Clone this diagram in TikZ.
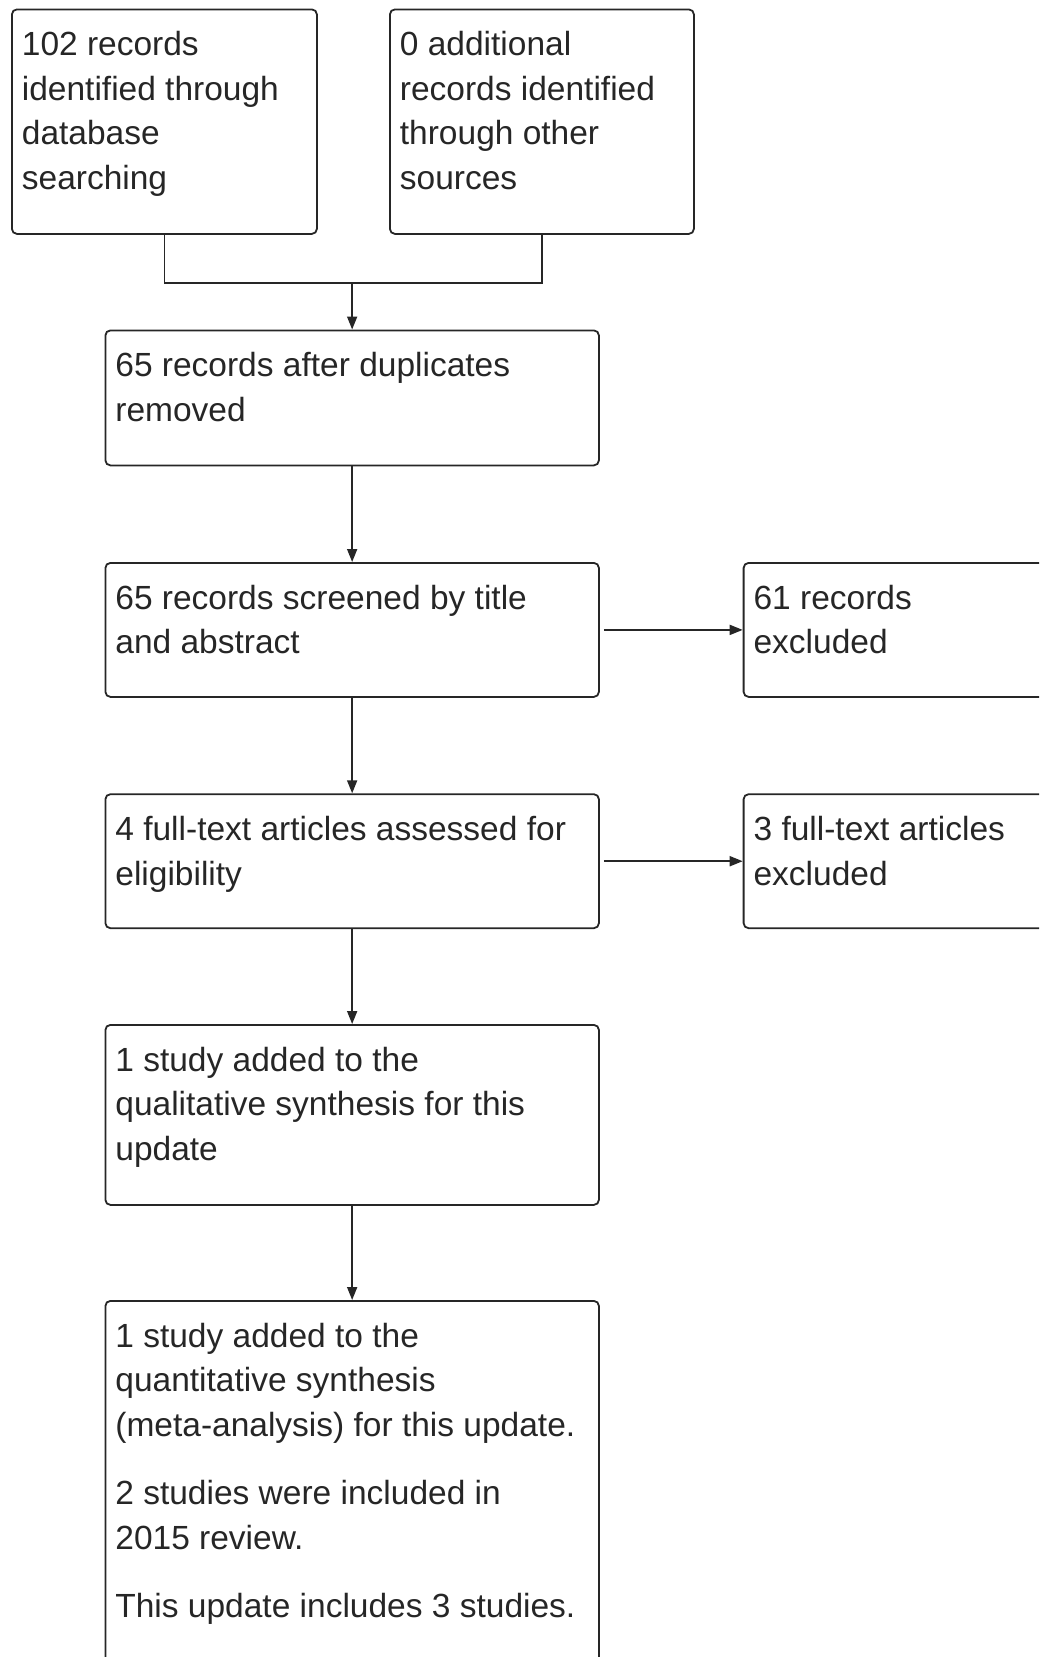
\documentclass[tikz,border=0pt]{standalone}
\usepackage{fontspec}
\setmainfont{Liberation Sans}
\usepackage{tikz}
\usetikzlibrary{arrows.meta}
\newcommand{\boxfont}{\fontsize{33.5pt}{44.4pt}\selectfont}
% text set at the top of a box of fixed height
\newcommand{\boxtext}[3]{\begin{minipage}[t][#2][t]{#1}\raggedright\rule{0pt}{46.5pt}#3\end{minipage}}

\begin{document}
\begin{tikzpicture}[x=1pt, y=1pt,
  box/.style={draw=black!85, line width=1.8pt, rounded corners=5pt, anchor=north west,
    inner xsep=10pt, inner ysep=0pt, font=\boxfont, text=black!85},
  link/.style={draw=black!85, line width=1.8pt},
  arrow/.style={link, -{Triangle[length=13pt,width=10pt]}},
]
\useasboundingbox (0,0) rectangle (1039,-1657);
\clip (0,0) rectangle (1039,-1657);
% ---------- Identification ----------
\node[box] (db) at (11,-8.5) {\boxtext{285pt}{224.5pt}{102 records\\identified through\\database\\searching}};
\node[box] (other) at (389,-8.5) {\boxtext{284pt}{224.5pt}{0 additional\\records identified\\through other\\sources}};
% ---------- Screening ----------
\node[box] (dedup) at (104.5,-329.5) {\boxtext{473.5pt}{135pt}{65 records after duplicates\\removed}};
\node[box] (screen) at (104.5,-562) {\boxtext{473.5pt}{134pt}{65 records screened by title\\and abstract}};
\node[box] (excl) at (742.7,-562) {\boxtext{317pt}{134pt}{61 records\\excluded}};
% ---------- Eligibility ----------
\node[box] (full) at (104.5,-793.3) {\boxtext{473.5pt}{134pt}{4 full-text articles assessed for\\eligibility}};
\node[box] (fullexcl) at (742.7,-793.3) {\boxtext{317pt}{134pt}{3 full-text articles\\excluded}};
% ---------- Included ----------
\node[box] (qual) at (104.5,-1024) {\boxtext{473.5pt}{180pt}{1 study added to the\\qualitative synthesis for this\\update}};
\node[box] (quant) at (104.5,-1300) {\boxtext{473.5pt}{400pt}{1 study added to the\\quantitative synthesis\\(meta-analysis) for this update.\\[24pt]2 studies were included in\\2015 review.\\[24pt]This update includes 3 studies.}};

% ---------- connectors ----------
\coordinate (merge) at (dedup.north |- 0,-283);
\draw[link] (db.south) |- (merge) -| (other.south);
\draw[arrow] (merge) -- (dedup.north);
\foreach \a/\b in {dedup/screen, screen/full, full/qual, qual/quant}
  \draw[arrow] (\a.south) -- (\b.north);
\draw[arrow, shorten <=4pt] (screen.east) -- (excl.west);
\draw[arrow, shorten <=4pt] (full.east) -- (fullexcl.west);
\end{tikzpicture}
\end{document}
